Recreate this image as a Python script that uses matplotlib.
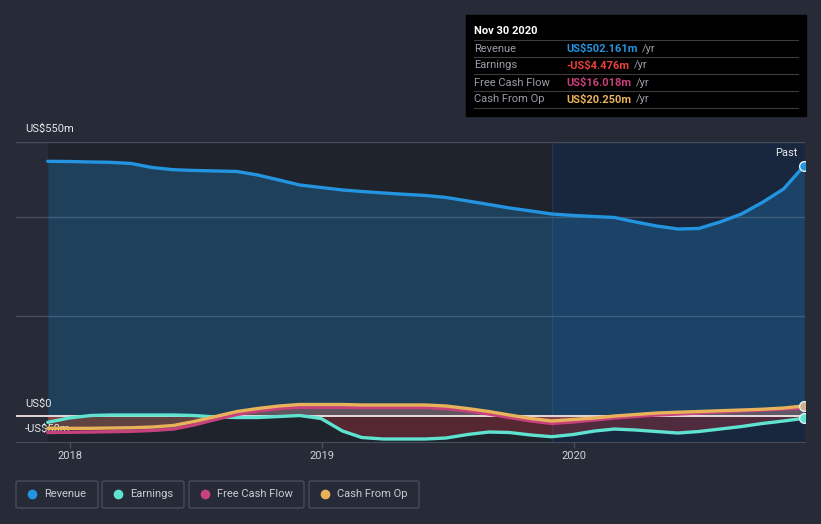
import matplotlib
matplotlib.use("Agg")
import matplotlib.pyplot as plt
import matplotlib.transforms as mtransforms
from matplotlib.patches import FancyBboxPatch, Rectangle
from matplotlib.lines import Line2D
import pandas as pd
import numpy as np

plt.rcParams['font.family'] = ['Roboto', 'DejaVu Sans']

# data, US$ millions, month ends
dates = pd.date_range("2017-11-30", "2020-11-30", freq="ME")
revenue = [510.7, 510.3, 509.3, 508.7, 506.3, 498.3, 493.9, 492.3, 491.3, 490.3,
           483.3, 473.2, 463.2, 458.2, 453.2, 450.2, 447.2, 444.6, 442.2, 438.2,
           431.2, 424.1, 417.1, 411.1, 405.1, 402.1, 400.0, 398.0, 389.0, 381.0,
           375.0, 376.0, 389.0, 405.1, 428.1, 455.2, 502.161]
earnings = [-12.6, -4.0, 1.0, 2.0, 2.0, 2.0, 2.0, 1.0, -2.0, -3.0,
            -3.0, -1.0, 1.0, -5.0, -30.1, -43.1, -46.1, -46.1, -46.1, -44.1,
            -37.1, -32.1, -33.1, -38.1, -41.5, -37.1, -30.1, -26.1, -28.1, -31.1,
            -34.1, -31.1, -26.1, -21.1, -15.0, -10.0, -4.476]
free_cash_flow = [-33.1, -32.7, -32.1, -31.5, -30.7, -29.1, -26.1, -18.0, -7.0, 3.0,
                  10.0, 15.0, 17.4, 17.4, 17.4, 17.0, 17.0, 17.0, 17.0, 15.0,
                  10.0, 4.0, -3.0, -10.0, -15.0, -12.0, -8.0, -4.0, -1.0, 2.0,
                  4.0, 6.0, 8.0, 10.0, 12.0, 14.0, 16.018]
cash_from_op = [-24.7, -24.7, -24.7, -24.1, -23.5, -22.1, -19.0, -11.0, -1.0, 9.0,
                15.0, 20.1, 23.1, 23.1, 23.1, 22.1, 22.1, 22.1, 22.1, 20.1,
                15.0, 9.0, 2.0, -5.0, -10.0, -7.0, -4.0, 0.0, 3.0, 6.0,
                7.6, 9.0, 10.6, 12.0, 13.6, 16.0, 20.25]

names = ["Revenue", "Earnings", "Free Cash Flow", "Cash From Op"]
colors = ["#2394df", "#5fe3d0", "#c7417c", "#e8b25b"]
tooltip_values = ["US$502.161m", "-US$4.476m", "US$16.018m", "US$20.250m"]
tooltip_colors = ["#2394df", "#e8413a", "#c7417c", "#e8b25b"]

bg = "#262b37"
W, H = 821, 524

fig = plt.figure(figsize=(W / 100, H / 100), dpi=100)
fig.patch.set_facecolor(bg)

ax = fig.add_axes([16 / W, 1 - 441.7 / H, 789 / W, 300 / H])
ax.set_facecolor(bg)

x0 = pd.Timestamp("2017-10-15")
x1 = pd.Timestamp("2020-12-01")
split = pd.Timestamp("2019-11-30")
ax.set_xlim(x0, x1)
ax.set_ylim(-51.5, 550)

ax.axvspan(dates[0], split, color="#1e232c", zorder=0, lw=0)
ax.axvspan(split, x1, color="#18273e", zorder=0, lw=0)
ax.axvline(split, color="#1f3656", lw=1, zorder=0.5)

for yv in [550, 400, 200]:
    ax.axhline(yv, color="#474d5a", lw=1, zorder=0.6)

# fills
ax.fill_between(dates, revenue, 0, color="#2394df", alpha=0.26, lw=0, zorder=1)
earn = np.array(earnings)
ax.fill_between(dates, earn, 0, where=earn < 0, interpolate=True,
                color="#c8323c", alpha=0.32, lw=0, zorder=1.1)
ax.fill_between(dates, free_cash_flow, 0, color="#c7417c", alpha=0.2, lw=0, zorder=1.2)
ax.fill_between(dates, cash_from_op, 0, color="#e8b25b", alpha=0.2, lw=0, zorder=1.3)

ax.axhline(0, color="#f2e6e6", lw=1.3, zorder=2)

series = [revenue, earnings, free_cash_flow, cash_from_op]
for vals, c, z in zip(series, colors, [3, 3.1, 3.2, 3.3]):
    ax.plot(dates, vals, color=c, lw=2.4, zorder=z, solid_capstyle="round",
            solid_joinstyle="round")

for vals, c in zip([revenue, earnings, cash_from_op], [colors[0], colors[1], "#c9b08a"]):
    ax.plot(dates[-1], vals[-1], "o", ms=7, color=c, mec="#e8eef5", mew=1, zorder=5)

for s in ["top", "left", "right"]:
    ax.spines[s].set_visible(False)
ax.spines["bottom"].set_color("#474d5a")
ax.set_yticks([])
years = pd.to_datetime(["2018-01-01", "2019-01-01", "2020-01-01"])
ax.set_xticks(years)
ax.set_xticklabels(["2018", "2019", "2020"])
ax.tick_params(axis="x", colors="#474d5a", length=4, width=1, labelcolor="#d0d3d8",
               labelsize=8, pad=3)

tr = mtransforms.blended_transform_factory(ax.transAxes, ax.transData)
for yv, txt in [(576, "US$550m"), (24, "US$0"), (-26, "-US$50m")]:
    ax.text(9 / 789, yv, txt, transform=tr, color="#e6e8ea", fontsize=8,
            va="center", ha="left", zorder=1.5, clip_on=False)

ax.text(781 / 789, 527, "Past", transform=tr, color="#e6e8ea", fontsize=8,
        ha="right", va="center", zorder=6)

# tooltip box
fig.patches.append(Rectangle((466 / W, 1 - 116 / H), 340 / W, 101 / H,
                             transform=fig.transFigure, color="black", zorder=10))
fig.text(474 / W, 1 - 31 / H, "Nov 30 2020", color="white", fontsize=8,
         fontweight="bold", va="center", zorder=11)
for yl in [40, 57, 74, 91, 108]:
    fig.add_artist(Line2D([474 / W, 798 / W], [1 - yl / H, 1 - yl / H],
                          color="#3c3c3c", lw=0.8, zorder=11))
fig.canvas.draw()
renderer = fig.canvas.get_renderer()
for i, (n, v, c) in enumerate(zip(names, tooltip_values, tooltip_colors)):
    yy = 1 - (48.5 + 17 * i) / H
    fig.text(474 / W, yy, n, color="#9a9ea6", fontsize=8, va="center", zorder=11)
    t = fig.text(566 / W, yy, v, color=c, fontsize=8, fontweight="bold",
                 va="center", zorder=11)
    bb = t.get_window_extent(renderer)
    fig.text((bb.x1 + 5) / W, yy, "/yr", color="#9a9ea6", fontsize=8,
             va="center", zorder=11)

# legend
boxes = [(16, 98), (102, 184), (189, 304), (309, 419)]
for (bx0, bx1), n, c in zip(boxes, names, colors):
    fig.patches.append(FancyBboxPatch((bx0 / W, 1 - 508 / H), (bx1 - bx0) / W, 27 / H,
                                      boxstyle="round,pad=0,rounding_size=0.003",
                                      transform=fig.transFigure, fc="none",
                                      ec="#464d5a", lw=1))
    fig.add_artist(Line2D([(bx0 + 16) / W], [1 - 494 / H], marker="o", ms=7,
                          color=c, mew=0))
    fig.text((bx0 + 28) / W, 1 - 494 / H, n, color="#c8ccd2", fontsize=8, va="center")

fig.savefig("out.png", dpi=100, facecolor=bg)
